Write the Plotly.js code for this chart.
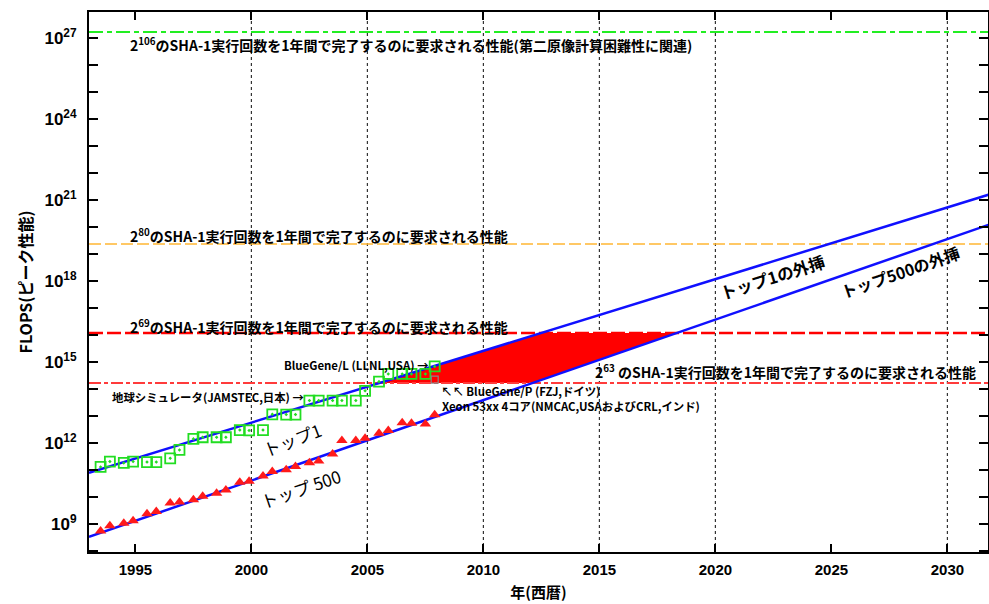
<!DOCTYPE html>
<html>
<head>
<meta charset="utf-8">
<script src="https://cdn.plot.ly/plotly-3.0.1.min.js"></script>
<style>html,body{margin:0;padding:0;background:#fff;}#chart{width:989px;height:604px;}</style>
</head>
<body>
<div id="chart"></div>
<script>
// ---- data ----
const surveyYears = [1993.5,1993.9,1994.5,1994.9,1995.5,1995.9,1996.5,1996.9,1997.5,1997.9,
  1998.5,1998.9,1999.5,1999.9,2000.5,2000.9,2001.5,2001.9,2002.5,2002.9,
  2003.5,2003.9,2004.5,2004.9,2005.5,2005.9,2006.5,2006.9,2007.5,2007.9];
const top1Flops = [1.29e11,2.04e11,1.82e11,2.04e11,1.95e11,1.95e11,2.69e11,5.5e11,1.41e12,1.62e12,
  1.62e12,1.62e12,3.0e12,2.9e12,3.0e12,1.15e13,1.12e13,1.12e13,3.7e13,3.7e13,
  3.7e13,3.7e13,3.7e13,8.5e13,1.86e14,3.6e14,3.6e14,3.6e14,3.6e14,6.8e14];
const top500Flops = [5.5e8,8.5e8,1.07e9,1.32e9,2.4e9,2.9e9,6.0e9,6.5e9,7.8e9,1.07e10,
  1.38e10,1.82e10,3.5e10,3.8e10,6.0e10,8.7e10,1.02e11,1.35e11,1.86e11,2.14e11,
  3.9e11,1.23e12,1.23e12,1.48e12,2.3e12,2.9e12,5.6e12,5.4e12,5.0e12,1.1e13];
const bgpYear = [2007.9];
const bgpFlops = [2.2e14];
const extYears = [1993, 2032];
const top1Ext = [7.8e10, 1.8e21];
const top500Ext = [3.3e8, 1.4e20];
const regionYears = [2005.5, 2012.5, 2018.3, 2012.1];
const regionFlops = [1.66e14, 1.17e16, 1.17e16, 1.66e14];
const lineYears = [1993, 2032];
const sha106 = 1.66e27, sha80 = 2.34e19, sha69 = 1.17e16, sha63 = 1.66e14;
const xTicks = [1995,2000,2005,2010,2015,2020,2025,2030];
const gridYears = [2000,2005,2010,2015,2020,2030];
const yExps = [8,9,10,11,12,13,14,15,16,17,18,19,20,21,22,23,24,25,26,27];
const yLabelExps = [9,12,15,18,21,24,27];

// ---- traces ----
const jp = '"Noto Sans CJK JP", "Noto Sans", sans-serif';
const traces = [
  {x: regionYears, y: regionFlops, mode:'lines', fill:'toself', fillcolor:'#ff0000',
   line:{width:0, color:'#ff0000'}, hoverinfo:'skip'},
  {x: lineYears, y:[sha106,sha106], mode:'lines', line:{color:'#22ee22', width:2, dash:'14px,4px,5px,4px'}},
  {x: lineYears, y:[sha80,sha80], mode:'lines', line:{color:'#ffb733', width:1.5, dash:'12px,4px'}},
  {x: lineYears, y:[sha69,sha69], mode:'lines', line:{color:'#ff0000', width:2.5, dash:'14px,4px'}},
  {x: lineYears, y:[sha63,sha63], mode:'lines', line:{color:'#ff3b3b', width:2, dash:'12px,3px,4px,3px'}},
  {x: extYears, y: top1Ext, mode:'lines', line:{color:'#1010ff', width:2.5}},
  {x: extYears, y: top500Ext, mode:'lines', line:{color:'#1010ff', width:2.5}},
  {x: surveyYears, y: top1Flops, mode:'markers',
   marker:{symbol:'square-open-dot', size:10, color:'#22dd22', line:{width:1.8, color:'#22dd22'}}},
  {x: surveyYears, y: top500Flops, mode:'markers',
   marker:{symbol:'triangle-up', size:10, color:'#ff1a1a', line:{width:0}}},
  {x: bgpYear, y: bgpFlops, mode:'markers',
   marker:{symbol:'square-open', size:7, color:'#888888', line:{width:1.2, color:'#888888'}}}
];

const shapes = gridYears.map(g => ({type:'line', xref:'x', yref:'paper', x0:g, x1:g, y0:0, y1:1,
  line:{color:'#333333', width:1.2, dash:'dot'}, layer:'below'}));

const lblFont = {family: jp, size: 14, color:'#000', weight:'bold'};
const smallFont = {family: jp, size: 11.4, color:'#000', weight:'bold'};
const annotations = [
  {x:1994.68, y:26.74, xanchor:'left', yanchor:'middle', showarrow:false, font:lblFont,
   text:'2<sup>106</sup>のSHA-1実行回数を1年間で完了するのに要求される性能(第二原像計算困難性に関連)'},
  {x:1994.68, y:19.70, xanchor:'left', yanchor:'middle', showarrow:false, font:lblFont,
   text:'2<sup>80</sup>のSHA-1実行回数を1年間で完了するのに要求される性能'},
  {x:1994.68, y:16.33, xanchor:'left', yanchor:'middle', showarrow:false, font:lblFont,
   text:'2<sup>69</sup>のSHA-1実行回数を1年間で完了するのに要求される性能'},
  {x:2014.72, y:14.63, xanchor:'left', yanchor:'middle', showarrow:false, font:lblFont,
   text:'2<sup>63</sup> のSHA-1実行回数を1年間で完了するのに要求される性能'},
  {x:2007.75, y:14.89, xanchor:'right', yanchor:'middle', showarrow:false, font:smallFont,
   text:'BlueGene/L (LLNL,USA) →'},
  {x:2002.35, y:13.70, xanchor:'right', yanchor:'middle', showarrow:false, font:smallFont,
   text:'地球シミュレータ(JAMSTEC,日本) →'},
  {x:2008.1, y:13.93, xanchor:'left', yanchor:'middle', showarrow:false, font:smallFont,
   text:'↖↖ BlueGene/P (FZJ,ドイツ)'},
  {x:2008.13, y:13.37, xanchor:'left', yanchor:'middle', showarrow:false, font:smallFont,
   text:'Xeon 53xx 4コア(NMCAC,USAおよびCRL,インド)'},
  {x:2001.75, y:12.11, showarrow:false, textangle:-21, font:{family:jp, size:17, color:'#000'},
   text:'トップ1'},
  {x:2002.1, y:10.33, showarrow:false, textangle:-19, font:{family:jp, size:17, color:'#000'},
   text:'トップ 500'},
  {x:2022.44, y:18.15, showarrow:false, textangle:-17.5, font:{family:jp, size:16.5, color:'#000', weight:'bold'},
   text:'トップ1の外挿'},
  {x:2027.96, y:18.33, showarrow:false, textangle:-19, font:{family:jp, size:16, color:'#000', weight:'bold'},
   text:'トップ500の外挿'}
];

const tickFont = {family:'"Liberation Sans", Arial, sans-serif', size:15, color:'#000', weight:'bold'};
const layout = {
  width: 989, height: 604,
  margin: {l:89, r:1, t:12, b:52},
  paper_bgcolor:'#fff', plot_bgcolor:'#fff',
  showlegend:false,
  xaxis: {range:[1993, 2031.75], tickvals:xTicks, ticktext:xTicks.map(String),
    ticks:'inside', ticklen:8, tickwidth:2, tickcolor:'#000', ticklabelstandoff:3,
    showgrid:false, zeroline:false, showline:true, linewidth:2, linecolor:'#000', mirror:'ticks',
    tickfont:tickFont,
    title:{text:'年(西暦)', font:{family:jp, size:15, color:'#000', weight:'bold'}, standoff:10}},
  yaxis: {type:'log', range:[7.96, 27.96],
    tickvals: yExps.map(e => Math.pow(10, e)),
    ticktext: yExps.map(e => yLabelExps.includes(e) ? '10<sup>' + e + '</sup>' : ''),
    ticks:'inside', ticklen:9, tickwidth:2, tickcolor:'#000', ticklabelstandoff:7,
    showgrid:false, zeroline:false, showline:true, linewidth:2, linecolor:'#000', mirror:'ticks',
    tickfont:{family:'"Liberation Sans", Arial, sans-serif', size:17, color:'#000', weight:'bold'},
    title:{text:'FLOPS(ピーク性能)', font:{family:jp, size:16, color:'#000', weight:'bold'}, standoff:8}},
  shapes: shapes,
  annotations: annotations
};

Plotly.newPlot('chart', traces, layout, {staticPlot:true, displayModeBar:false});
</script>
</body>
</html>
